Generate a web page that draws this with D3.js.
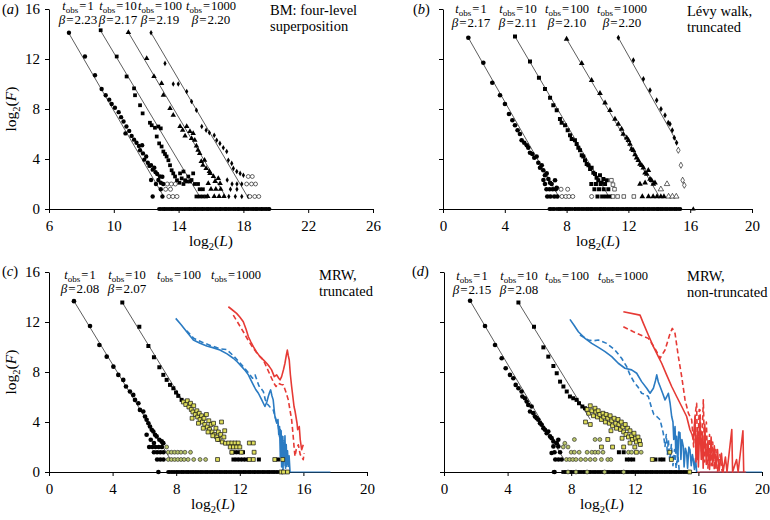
<!DOCTYPE html>
<html><head><meta charset="utf-8">
<script src="https://cdn.jsdelivr.net/npm/d3@7"></script>
<style>body{margin:0;background:#fff}</style>
</head><body><svg id="chart" width="770" height="520"></svg>
<script>
// ---------- DATA (log2 L, log2 F) ----------
const xTicksA = [6,10,14,18,22,26];
const xTicksB = [0,4,8,12,16,20];
const yTicks = [0,4,8,12,16];
const tobsLabels = ['1','10','100','1000'];
const aBeta = ['2.23','2.17','2.19','2.20'];
const bBeta = ['2.17','2.11','2.10','2.20'];
const cBeta = ['2.08','2.07'];
const dBeta = ['2.15','2.08'];
const aTitle = ['BM: four-level','superposition'];
const bTitle = ['Lévy walk,','truncated'];
const cTitle = ['MRW,','truncated'];
const dTitle = ['MRW,','non-truncated'];

// panel (a)
const aCircle = [[7.23,14.1],[8.22,12.2],[8.84,10.7],[9.25,9.6],[9.5,9.1],[9.72,8.75],[9.87,8.4],[10.07,8.1],[10.3,7.75],[10.45,7.35],[10.6,7.0],[10.78,6.6],[10.72,6.05],[10.95,6.25],[11.1,5.85],[11.25,5.55],[11.4,5.3],[11.55,5.05],[11.75,5.1],[11.62,4.7],[11.8,4.45],[11.88,3.95],[12.0,4.2],[12.1,3.7],[12.2,3.45],[12.3,3.5],[12.4,3.15],[12.5,3.3],[12.58,2.95],[12.68,2.8],[12.3,2.32],[12.75,2.32],[12.85,2.6],[13.0,2.58],[12.9,2.1],[13.05,2.0],[12.6,2.0],[12.4,1.0],[12.9,1.58],[13.0,1.0]];
const aCircleOpen = [[13.3,2.0],[13.55,2.0],[13.8,2.0],[13.2,1.58],[13.5,1.58],[13.4,1.0],[13.65,1.0],[13.9,1.0]];
const aSquare = [[9.19,14.3],[10.18,12.2],[10.79,10.6],[11.25,9.65],[11.31,9.1],[11.62,8.3],[11.78,7.65],[12.23,6.9],[12.34,6.7],[12.54,6.5],[12.75,6.6],[12.9,6.45],[12.65,5.8],[12.8,5.25],[12.95,5.0],[13.06,4.6],[13.16,4.4],[13.26,4.2],[13.37,3.9],[13.47,3.5],[13.57,3.1],[13.67,2.85],[13.78,2.6],[14.09,2.85],[14.19,2.45],[14.3,3.0],[14.4,2.3],[14.5,2.2],[14.6,2.6],[14.7,2.2],[14.8,2.32],[14.9,2.85],[14.05,2.1],[13.9,2.3],[14.3,2.0],[15.0,2.0],[15.2,2.0],[15.3,1.58],[15.5,1.58],[15.1,1.0],[15.3,1.0],[15.5,1.0],[15.7,1.0]];
const aTriangle = [[10.9,14.13],[12.03,12.05],[12.48,10.6],[12.95,10.05],[13.06,9.1],[13.47,8.05],[13.67,7.5],[14.09,6.6],[14.25,6.3],[14.4,5.85],[14.5,6.6],[14.7,6.2],[14.8,5.65],[14.9,6.05],[15.0,5.5],[15.1,5.05],[15.2,4.7],[15.3,4.45],[15.4,3.8],[15.5,3.5],[15.6,3.9],[15.7,3.25],[15.9,3.0],[15.94,2.85],[15.83,2.05],[16.15,2.6],[16.25,2.2],[16.45,2.45],[16.56,2.05],[16.0,1.58],[16.3,1.58],[16.6,1.58],[15.8,1.0],[16.2,1.0],[16.5,1.0],[16.8,1.0]];
const aDiamond = [[12.3,14.1],[13.16,11.65],[13.67,10.0],[13.98,10.0],[14.5,9.4],[14.8,8.6],[15.1,7.9],[15.43,6.6],[15.7,6.3],[15.9,6.1],[16.2,5.9],[16.35,5.5],[16.55,5.25],[16.76,4.9],[16.97,4.6],[17.07,3.9],[17.28,3.65],[17.38,3.25],[17.59,3.0],[17.8,2.85],[18.0,2.7],[17.0,2.32],[17.3,2.0],[17.6,2.0],[17.9,2.0],[17.2,1.58],[17.6,1.58],[17.1,1.0],[17.5,1.0],[17.9,1.0],[18.3,1.0]];
const aDiamondOpen = [[18.3,2.6],[18.55,2.6],[18.2,2.0],[18.5,2.0],[18.75,2.0],[18.4,1.0],[18.7,1.0],[18.95,1.0]];
const aRow0 = [12.8,12.95,13.1,13.2,13.35,13.5,13.6,13.75,13.9,14.0,14.15,14.3,14.45,14.6,14.7,14.85,15.0,15.1,15.25,15.4,15.5,15.65,15.8,15.9,16.05,16.2,16.35,16.5,16.6,16.75,16.9,17.0,17.15,17.3,17.45,17.6,17.7,17.85,18.0,18.1,18.25,18.4,18.55,18.7,18.8,18.95,19.1,19.2,19.35,19.5,19.6];
const aFits = [[7.23,14.05,13.1,0.95],[9.19,14.25,15.3,1.0],[10.9,14.13,16.9,1.0],[12.3,14.1,18.25,1.0]];

// panel (b)
const bCircle = [[1.64,13.7],[2.61,11.7],[3.19,10.1],[3.69,9.1],[4.01,8.4],[4.27,7.6],[4.49,7.1],[4.66,6.7],[4.83,6.3],[4.98,6.0],[5.09,5.5],[5.26,5.3],[5.42,5.1],[5.52,4.9],[5.63,4.5],[5.78,4.4],[5.91,4.1],[6.06,4.2],[6.17,3.7],[6.28,3.3],[6.39,3.5],[6.49,3.1],[6.6,2.7],[6.71,2.85],[6.82,2.4],[6.93,2.1],[7.03,2.0],[7.25,2.3],[7.36,1.7],[6.5,2.32],[6.6,2.0],[6.7,1.58],[6.9,1.58],[7.1,1.58],[7.3,1.58],[6.75,1.0],[6.95,1.0],[7.2,1.0],[7.4,1.0]];
const bCircleOpen = [[7.64,1.58],[8.07,1.58],[7.7,1.0],[7.95,1.0],[8.15,1.0],[8.4,1.0],[9.62,1.0]];
const bSquare = [[4.66,13.8],[5.63,11.8],[6.21,10.5],[6.6,9.6],[6.93,8.9],[7.14,8.3],[7.36,7.9],[7.57,7.2],[7.68,6.9],[7.9,6.7],[8.07,6.3],[8.22,5.9],[8.33,5.6],[8.54,5.5],[8.65,5.2],[8.76,4.9],[8.87,4.7],[8.98,4.3],[9.08,4.2],[9.19,3.9],[9.3,3.6],[9.41,3.5],[9.52,3.2],[9.62,3.3],[9.73,2.9],[9.84,2.8],[9.94,2.5],[10.05,2.3],[10.16,2.7],[10.27,2.1],[10.38,2.4],[10.49,2.0],[10.6,2.3],[9.6,2.0],[9.9,2.0],[10.2,2.0],[9.8,1.58],[10.1,1.58],[10.4,1.58],[10.7,1.58],[10.0,1.0],[10.3,1.0],[10.55,1.0],[10.8,1.0]];
const bSquareOpen = [[10.9,2.3],[11.0,1.95],[11.1,1.58],[11.0,1.0],[11.3,1.0],[11.7,1.0],[12.35,1.0]];
const bTriangle = [[8.0,13.6],[8.98,11.65],[9.62,10.3],[10.16,9.25],[10.49,8.5],[10.81,7.9],[11.13,7.2],[11.35,6.8],[11.56,6.4],[11.67,6.0],[11.89,5.7],[12.0,5.5],[12.1,5.2],[12.21,4.8],[12.32,4.7],[12.43,4.35],[12.53,4.1],[12.64,3.9],[12.75,3.6],[12.86,3.5],[12.97,3.3],[13.08,2.9],[13.19,2.8],[13.29,3.1],[13.4,2.4],[13.5,2.3],[13.61,2.0],[13.72,2.1],[12.75,2.0],[13.08,2.1],[12.9,1.0],[13.3,1.0],[13.6,1.0],[13.85,1.0],[14.1,1.0],[14.3,1.0]];
const bTriangleOpen = [[14.5,2.0],[14.1,1.58],[14.6,1.0],[14.85,1.0],[15.1,1.0]];
const bDiamond = [[11.35,13.7],[12.32,11.9],[12.97,10.4],[13.4,9.5],[13.83,8.7],[14.11,8.0],[14.37,7.5],[14.58,6.9],[14.69,6.8],[14.84,6.3],[14.97,5.7],[15.12,5.3]];
const bDiamondOpen = [[15.23,4.7],[15.4,3.5],[15.51,2.3],[15.62,1.9]];
const bRow0 = [6.9,7.05,7.2,7.4,7.55,7.7,7.9,8.0,8.15,8.3,8.5,8.6,8.75,8.9,9.05,9.2,9.35,9.5,9.6,9.75,9.9,10.05,10.2,10.3,10.45,10.6,10.75,10.9,11.0,11.15,11.3,11.45,11.6,11.75,11.9,12.0,12.15,12.3,12.45,12.6,12.75,12.9,13.0,13.15,13.3,13.45,13.6,13.75,13.9,14.0,14.15,14.3,14.45,14.6,14.75,14.9,15.05,15.2,15.35];
const bFits = [[1.64,13.7,7.49,1.0],[4.66,13.8,10.73,1.0],[8.0,13.6,14.0,1.0],[11.35,13.7,15.1,5.45]];

// panel (c)
const cCircle = [[1.57,13.67],[2.58,11.68],[3.17,10.16],[3.63,9.23],[4.05,8.43],[4.36,7.77],[4.67,7.37],[4.84,6.84],[5.09,6.44],[5.3,6.17],[5.41,5.77],[5.62,5.5],[5.72,4.97],[5.93,4.84],[6.04,4.44],[6.14,4.18],[6.25,3.9],[6.35,3.64],[6.46,3.38],[6.56,3.24],[6.67,2.98],[6.77,2.85],[6.94,2.58],[7.09,2.45],[7.19,2.31],[6.14,2.98],[6.4,2.58],[6.6,2.32],[6.3,2.0],[6.5,2.0],[6.7,2.0],[6.9,2.0],[7.1,2.0],[6.6,1.58],[6.8,1.58],[7.0,1.58],[7.2,1.58],[6.8,1.0],[7.0,1.0],[7.2,1.0],[6.88,0]];
const cCircleGreen = [[7.4,2.0],[7.5,1.58],[7.7,1.58],[7.9,1.58],[8.1,1.58],[8.3,1.58],[8.55,1.58],[8.9,1.58],[7.5,1.0],[7.7,1.0],[7.9,1.0],[8.1,1.0],[8.3,1.0],[8.5,1.0],[8.75,1.0],[9.1,1.0],[9.5,1.0],[9.85,1.0]];
const cSquare = [[4.61,13.56],[5.68,11.62],[6.25,10.08],[6.6,9.18],[6.94,8.38],[7.19,7.77],[7.4,7.37],[7.61,6.97],[7.82,6.7],[7.99,6.36],[8.13,6.09],[8.34,5.77],[11.5,1.58],[11.7,1.58],[11.9,1.58],[12.2,1.58],[11.6,1.0],[11.8,1.0],[12.0,1.0],[12.2,1.0],[12.4,1.0],[13.2,1.0],[14.4,1.0]];
const cSquareYellow = [[8.45,5.6],[8.6,5.4],[8.7,5.7],[8.8,5.2],[8.9,5.5],[8.95,5.0],[9.05,4.8],[9.1,5.3],[9.2,4.6],[9.3,4.9],[9.35,4.4],[9.45,4.7],[9.5,4.2],[9.6,4.5],[9.65,4.0],[9.75,4.3],[9.8,3.8],[9.9,4.6],[9.95,3.6],[10.05,4.1],[10.1,3.4],[10.2,3.8],[10.25,3.2],[10.35,3.9],[10.4,3.0],[10.5,3.5],[10.55,2.8],[10.65,3.2],[10.7,2.6],[10.8,3.0],[10.85,4.0],[10.9,2.4],[11.0,2.8],[11.05,3.3],[11.1,2.3],[9.0,4.3],[9.4,3.9],[9.7,3.5],[10.0,3.2],[10.3,2.9],[10.6,2.6],[11.3,2.32],[11.5,2.32],[11.7,2.32],[11.9,2.32],[12.6,2.32],[12.85,2.32],[11.4,2.0],[11.6,2.0],[11.8,2.0],[12.0,2.0],[11.5,1.58],[12.1,1.58],[12.9,1.58],[10.6,1.0],[12.6,1.0],[12.85,1.0],[14.2,1.0],[14.7,1.0],[14.6,0],[14.75,0],[15.0,0]];
const cRow0 = [7.5,7.65,7.8,7.95,8.1,8.25,8.4,8.55,8.7,8.85,9.0,9.15,9.3,9.45,9.6,9.75,9.9,10.05,10.2,10.35,10.5,10.65,10.8,10.95,11.1,11.25,11.4,11.55,11.7,11.85,12.0,12.15,12.3,12.45,12.6,12.75,12.9,13.05,13.2,13.35,13.5,13.65,13.8,13.95,14.1,14.25,14.4];
const cFits = [[1.57,13.67,7.6,1.1],[4.61,13.56,8.5,5.5]];
const cBlue = [[7.97,12.29],[8.3,11.8],[8.66,11.22],[9.08,10.56],[9.5,10.3],[9.92,10.08],[10.3,9.95],[10.75,9.76],[11.2,9.45],[11.59,9.1],[11.85,8.8],[12.12,8.43],[12.35,8.1],[12.54,7.77],[12.7,7.35],[12.85,6.97],[13.0,6.6],[13.17,6.3],[13.38,5.77],[13.58,5.24],[13.7,5.6],[13.79,6.04],[13.88,6.4],[13.94,6.57],[14.02,6.1],[14.1,5.77],[14.16,5.0],[14.21,4.44],[14.28,4.1],[14.32,3.91],[14.4,4.2],[14.45,3.0],[14.5,3.64],[14.55,1.2],[14.6,3.3],[14.63,0.4],[14.68,2.85],[14.72,0.2],[14.76,2.4],[14.8,0.8],[14.84,2.9],[14.88,0.3],[14.92,2.2],[14.96,0.6],[15.0,1.7],[15.05,0.45],[15.1,1.3],[15.16,0]];
const cBlueDash = [[8.66,11.3],[9.1,10.7],[9.6,10.4],[10.2,10.1],[10.8,9.85],[11.17,9.8],[11.6,9.3],[12.1,8.6],[12.5,8.0],[12.8,7.5],[12.96,7.77],[13.2,6.9],[13.48,6.44],[13.6,5.8],[13.69,5.5],[13.9,5.2],[14.1,4.97],[14.25,4.3],[14.42,3.64],[14.5,2.8],[14.55,3.4],[14.63,2.05],[14.7,2.9],[14.75,1.0],[14.8,2.5],[14.85,0.5],[14.9,1.8],[14.95,0]];
const cBlueBase = [[14.5,0],[17.7,0]];
const cRed = [[11.28,13.22],[11.5,13.0],[11.8,12.69],[12.0,12.4],[12.22,12.02],[12.4,11.4],[12.54,10.82],[12.7,10.4],[12.85,10.03],[13.05,9.6],[13.27,9.23],[13.5,8.95],[13.69,8.7],[13.85,8.45],[14.0,8.17],[14.17,7.63],[14.32,7.77],[14.45,7.5],[14.53,7.37],[14.63,7.63],[14.75,8.2],[14.84,8.7],[14.92,9.3],[14.99,9.75],[15.05,9.3],[15.11,8.96],[15.18,7.8],[15.26,6.84],[15.34,6.0],[15.41,5.24],[15.47,4.9],[15.53,4.44],[15.6,3.9],[15.64,3.38],[15.74,3.64],[15.8,2.6],[15.89,1.78],[15.99,2.18]];
const cRedDash = [[11.59,12.55],[11.9,11.9],[12.22,11.22],[12.5,10.6],[12.85,9.89],[13.15,9.4],[13.48,8.96],[13.75,8.2],[14.0,7.5],[14.15,7.1],[14.28,6.84],[14.42,7.1],[14.6,7.0],[14.74,6.97],[14.9,6.4],[15.05,5.77],[15.15,5.0],[15.26,4.18],[15.35,3.0],[15.41,2.05],[15.47,1.25],[15.55,1.8],[15.68,2.18],[15.8,1.4],[15.9,1.2],[15.99,0.98],[16.04,1.52]];

// panel (d)
const dCircle = [[1.64,13.7],[2.58,11.68],[3.21,10.16],[3.63,9.1],[3.88,8.3],[4.15,7.77],[4.36,7.5],[4.51,6.97],[4.68,6.7],[4.88,6.44],[4.93,6.04],[5.09,5.9],[5.2,5.64],[5.3,5.37],[5.51,5.24],[5.41,4.84],[5.62,4.71],[5.72,4.44],[5.83,4.31],[5.93,4.18],[6.04,3.91],[6.14,3.78],[6.25,3.51],[6.35,3.38],[6.46,3.11],[6.56,3.24],[6.67,2.85],[6.77,2.71],[6.88,2.45],[7.09,2.31],[7.19,2.58],[6.88,2.05],[7.19,2.05],[6.77,1.52],[6.95,1.58],[7.3,1.58],[7.0,1.0],[7.2,1.0],[7.4,1.0],[6.95,0]];
const dCircleGreen = [[7.6,2.3],[8.2,2.6],[9.5,2.6],[9.8,2.6],[7.5,2.0],[7.8,2.0],[8.0,1.58],[8.2,1.58],[8.5,1.58],[9.0,1.58],[9.3,1.58],[9.5,1.58],[9.7,1.58],[10.0,1.58],[7.7,1.0],[7.9,1.0],[8.1,1.0],[8.3,1.0],[8.6,1.0],[8.9,1.0],[9.2,1.0],[9.5,1.0],[9.9,1.0],[10.3,1.0],[10.5,1.0],[11.6,1.58],[11.8,1.58],[12.4,1.58],[7.8,0],[8.3,0],[9.0,0],[10.1,0],[11.3,0]];
const dSquare = [[4.68,13.56],[5.66,11.62],[6.25,9.97],[6.56,9.23],[6.88,8.48],[7.09,7.9],[7.3,7.23],[7.51,6.84],[7.72,6.44],[7.92,6.04],[8.13,5.9],[8.34,5.77],[8.49,5.5],[8.7,5.24],[8.87,5.1],[11.5,1.0],[11.7,1.0],[11.9,1.0],[13.3,1.0],[13.6,1.0],[13.8,1.0],[11.0,1.58],[11.3,1.58]];
const dSquareYellow = [[9.0,5.0],[9.1,4.7],[9.2,5.3],[9.3,4.9],[9.4,4.5],[9.5,5.1],[9.55,4.8],[9.65,4.4],[9.7,4.9],[9.8,4.6],[9.9,4.2],[10.0,4.7],[10.05,4.4],[10.15,4.0],[10.2,4.6],[10.3,4.3],[10.4,3.9],[10.45,4.5],[10.55,4.1],[10.6,3.7],[10.7,4.3],[10.8,3.9],[10.85,3.5],[10.95,4.2],[11.0,3.8],[11.1,3.4],[11.15,4.0],[11.25,3.6],[11.3,3.2],[11.4,3.8],[11.45,3.0],[11.55,3.5],[11.6,2.8],[11.7,3.3],[11.8,2.9],[11.85,2.6],[11.95,3.1],[12.05,2.7],[12.1,2.4],[12.2,2.8],[12.3,2.5],[12.35,2.2],[9.2,3.8],[10.5,3.3],[11.2,2.7],[10.3,2.6],[8.9,4.0],[11.7,2.32],[12.0,2.0],[11.3,2.0],[10.6,2.0],[9.9,2.0],[12.1,1.58],[13.1,1.0],[14.2,1.58],[14.3,1.0],[15.45,0]];
const dRow0 = [6.9,7.5,7.65,7.8,7.95,8.1,8.25,8.4,8.55,8.7,8.85,9.0,9.15,9.3,9.45,9.6,9.75,9.9,10.05,10.2,10.35,10.5,10.65,10.8,10.95,11.1,11.25,11.4,11.55,11.7,11.85,12.0,12.15,12.3,12.45,12.6,12.75,12.9,13.05,13.2,13.35,13.5,13.65,13.8,13.95,14.1,14.25,14.4,14.55,14.7,14.85,15.0,15.15,15.3,15.4];
const dFits = [[1.64,13.7,7.5,1.1],[4.68,13.56,9.2,4.2]];
const dBlue = [[7.92,12.21],[8.2,11.7],[8.45,11.22],[8.87,10.69],[9.29,10.29],[9.71,9.97],[10.13,9.63],[10.55,9.23],[10.96,8.7],[11.38,8.3],[11.8,8.17],[12.12,7.9],[12.43,7.23],[12.75,6.7],[12.96,6.3],[13.17,6.7],[13.3,7.3],[13.38,7.77],[13.48,7.2],[13.59,6.84],[13.75,6.3],[13.9,5.77],[14.0,6.0],[14.11,6.3],[14.22,5.5],[14.32,4.44],[14.4,4.0],[14.45,2.6],[14.53,3.64],[14.58,1.5],[14.63,2.85],[14.7,0.8],[14.76,3.2],[14.84,3.15],[14.9,1.0],[14.96,2.6],[15.05,2.05],[15.1,0.4],[15.18,1.9],[15.26,1.52],[15.32,0.3],[15.4,2.0],[15.47,1.78],[15.55,0.5],[15.62,1.4],[15.68,0.98],[15.75,0.2],[15.82,1.1],[15.89,0]];
const dBlueDash = [[8.55,10.96],[9.08,10.56],[9.4,10.5],[9.71,10.56],[10.23,10.29],[10.75,9.76],[11.17,9.1],[11.49,8.43],[11.7,7.77],[11.95,7.2],[12.2,6.8],[12.43,6.3],[12.65,6.2],[12.85,6.04],[13.06,5.1],[13.2,4.6],[13.38,4.44],[13.59,4.18],[13.79,3.11],[13.9,2.05],[13.98,3.0],[14.05,1.4],[14.11,2.6],[14.2,0.9],[14.3,2.2],[14.4,0.5],[14.5,1.8],[14.6,0.3],[14.7,1.5],[14.8,0]];
const dBlueBase = [[16.1,0],[20,0]];
const dRed = [[11.28,12.82],[12.33,12.55],[12.54,11.89],[12.85,10.96],[13.17,10.03],[13.48,9.23],[13.69,8.7],[14.0,7.77],[14.32,6.84],[14.63,6.04],[14.95,5.24],[15.26,4.44],[15.47,3.38],[15.6,3.0],[15.68,2.58],[15.79,4.44],[15.85,0.8],[15.95,3.5],[16.0,0.4],[16.1,4.2],[16.18,1.0],[16.25,2.9],[16.3,0.3],[16.4,3.8],[16.5,0.6],[16.6,2.5],[16.7,0.2],[16.8,2.8],[16.9,0.5],[17.0,2.1],[17.1,0.3],[17.2,1.8],[17.3,0.1],[17.45,1.5],[17.55,0],[17.7,1.2],[17.8,0],[18.1,3.4],[18.15,0],[18.4,1.0],[18.5,0],[18.8,3.3],[18.85,0]];
const dRedDash = [[11.28,11.62],[11.91,11.22],[12.85,10.69],[13.27,9.89],[13.59,9.1],[13.9,9.76],[14.22,11.09],[14.36,11.49],[14.53,11.09],[14.74,9.23],[14.95,7.63],[15.16,5.77],[15.37,4.71],[15.58,4.18],[15.7,2.0],[15.8,4.6],[15.89,5.5],[15.95,1.0],[16.05,5.0],[16.1,4.97],[16.2,1.5],[16.31,5.77],[16.4,0.8],[16.5,4.0],[16.6,0.3],[16.7,3.0],[16.8,0.5],[16.9,2.4],[17.0,0.2],[17.1,1.8],[17.2,0],[17.35,1.4],[17.5,0]];
const dRedBase = [[15.9,0],[19.0,0]];

// ---------- DRAWING ----------
const FONT = 'Liberation Serif';
const svg = d3.select('#chart');
const BLUE = '#2b7bc2', RED = '#e63a35', YEL = '#e0df5c', GRN = '#b8c46c';

function txt(sel, x, y, size) {
  return sel.append('text').attr('x', x).attr('y', y).attr('font-family', FONT).attr('font-size', size).attr('fill', '#000');
}
function sp(t, s) { return t.append('tspan').attr('font-family', FONT).text(s); }

function panel(cfg) {
  const g = svg.append('g');
  const x = d3.scaleLinear().domain(cfg.xd).range([cfg.x0, cfg.x1]);
  const y = d3.scaleLinear().domain([0,16]).range([cfg.y0, cfg.y1]);
  const xa = g.append('g').attr('transform', `translate(0,${cfg.y0})`)
    .call(d3.axisBottom(x).tickValues(cfg.xt).tickSize(4).tickSizeOuter(0).tickPadding(7));
  const ya = g.append('g').attr('transform', `translate(${cfg.x0},0)`)
    .call(d3.axisLeft(y).tickValues(yTicks).tickSize(4).tickSizeOuter(0).tickPadding(5)
      .tickFormat(cfg.ylab ? d3.format('d') : () => ''));
  [xa, ya].forEach(a => {
    a.attr('font-family', FONT).attr('font-size', 15);
    a.selectAll('text').attr('fill', '#000').attr('font-family', FONT).attr('font-size', 15);
    a.selectAll('path,line').attr('stroke', '#000').attr('stroke-width', 1);
  });
  const xt = txt(g, cfg.xtx, cfg.y0 + 37, 15.5).attr('text-anchor', 'middle');
  sp(xt, 'log');
  sp(xt, '2').attr('dy', 4).attr('font-size', 10.5);
  sp(xt, '(').attr('dy', -4);
  sp(xt, 'L').attr('font-style', 'italic');
  sp(xt, ')');
  if (cfg.ylab) {
    const cy = (cfg.y0 + cfg.y1) / 2;
    const yt = txt(g, 0, 0, 15.5).attr('transform', `translate(16,${cy}) rotate(-90)`).attr('text-anchor', 'middle');
    sp(yt, 'log');
    sp(yt, '2').attr('dy', 4).attr('font-size', 10.5);
    sp(yt, '(').attr('dy', -4);
    sp(yt, 'F').attr('font-style', 'italic');
    sp(yt, ')');
  }
  const pl = txt(g, cfg.lx, cfg.ly, 14.5);
  sp(pl, '(');
  sp(pl, cfg.letter).attr('font-style', 'italic');
  sp(pl, ')');
  cfg.ax.forEach((px, i) => {
    const t = txt(g, px, cfg.t1, 12.5).attr('text-anchor', 'middle');
    sp(t, 't').attr('font-style', 'italic');
    sp(t, 'obs').attr('dy', 2.5).attr('font-size', 9);
    sp(t, '\u200A=\u200A' + tobsLabels[i]).attr('dy', -2.5);
    if (cfg.betas[i]) {
      const b = txt(g, px, cfg.t1 + 14, 13).attr('text-anchor', 'middle');
      sp(b, 'β').attr('font-style', 'italic');
      sp(b, '\u200A=\u200A' + cfg.betas[i]);
    }
  });
  cfg.title.forEach((s, i) => { txt(g, cfg.tx, cfg.ty + i * 16, 14.5).text(s); });
  return {g, x, y};
}

function symbols(P, data, type, size, fill, stroke, sw) {
  P.g.append('g').selectAll('path').data(data).join('path')
    .attr('transform', d => `translate(${P.x(d[0])},${P.y(d[1])})`)
    .attr('d', d3.symbol().type(type).size(size))
    .attr('fill', fill).attr('stroke', stroke || 'none').attr('stroke-width', sw || 0);
}
function row0(P, xs) {
  P.g.append('g').selectAll('path').data(xs).join('path')
    .attr('transform', d => `translate(${P.x(d)},${P.y(0)})`)
    .attr('d', (d, i) => d3.symbol().type(i % 2 ? d3.symbolSquare : d3.symbolCircle).size(14)())
    .attr('fill', '#000');
}
function fits(P, arr) {
  P.g.append('g').selectAll('line').data(arr).join('line')
    .attr('x1', d => P.x(d[0])).attr('y1', d => P.y(d[1]))
    .attr('x2', d => P.x(d[2])).attr('y2', d => P.y(d[3]))
    .attr('stroke', '#333').attr('stroke-width', 0.8);
}
function curve(P, data, color, dash, w) {
  P.g.append('path').datum(data)
    .attr('d', d3.line().x(d => P.x(d[0])).y(d => P.y(d[1])))
    .attr('fill', 'none').attr('stroke', color).attr('stroke-width', w || 1.6)
    .attr('stroke-dasharray', dash ? '5,3' : null).attr('stroke-linejoin', 'round');
}

// Panel a
const A = panel({x0:49,x1:373,y0:209,y1:9,xd:[6,26],xt:xTicksA,ylab:true,xtx:211,letter:'a',lx:2,ly:14,
  ax:[78,118,160,211],t1:10,betas:aBeta,title:aTitle,tx:270,ty:15});
fits(A, aFits);
row0(A, aRow0);
symbols(A, aCircle, d3.symbolCircle, 15, '#000');
symbols(A, aSquare, d3.symbolSquare, 14, '#000');
symbols(A, aTriangle, d3.symbolTriangle, 13, '#000');
symbols(A, aDiamond, d3.symbolDiamond, 9, '#000');
symbols(A, aCircleOpen, d3.symbolCircle, 13, '#fff', '#000', 0.6);
symbols(A, aDiamondOpen, d3.symbolCircle, 12, '#fff', '#000', 0.6);

// Panel b
const B = panel({x0:443,x1:752,y0:209,y1:9,xd:[0,20],xt:xTicksB,ylab:false,xtx:598,letter:'b',lx:413,ly:14,
  ax:[471,518,567,622],t1:13,betas:bBeta,title:bTitle,tx:687,ty:16});
fits(B, bFits);
row0(B, bRow0);
symbols(B, [[16.2,0]], d3.symbolTriangle, 10, '#000');
symbols(B, bCircle, d3.symbolCircle, 17, '#000');
symbols(B, bSquare, d3.symbolSquare, 16, '#000');
symbols(B, bTriangle, d3.symbolTriangle, 14, '#000');
symbols(B, bDiamond, d3.symbolDiamond, 11, '#000');
symbols(B, bCircleOpen, d3.symbolCircle, 13, '#fff', '#000', 0.6);
symbols(B, bSquareOpen, d3.symbolSquare, 13, '#fff', '#000', 0.6);
symbols(B, bTriangleOpen, d3.symbolTriangle, 13, '#fff', '#000', 0.6);
symbols(B, bDiamondOpen, d3.symbolDiamond, 11, '#fff', '#000', 0.6);

// Panel c
const C = panel({x0:49,x1:367,y0:472,y1:272,xd:[0,20],xt:xTicksB,ylab:true,xtx:213,letter:'c',lx:2,ly:276,
  ax:[80,127,179,236],t1:279,betas:cBeta,title:cTitle,tx:319,ty:280});
fits(C, cFits);
row0(C, cRow0);
symbols(C, cCircle, d3.symbolCircle, 17, '#000');
symbols(C, cSquare, d3.symbolSquare, 16, '#000');
symbols(C, cCircleGreen, d3.symbolCircle, 12, GRN, '#222', 0.6);
curve(C, cBlueBase, BLUE, false, 1.2);
curve(C, cBlueDash, BLUE, true);
curve(C, cBlue, BLUE, false);
curve(C, cRedDash, RED, true);
curve(C, cRed, RED, false);
symbols(C, cSquareYellow, d3.symbolSquare, 15, YEL, '#111', 0.7);

// Panel d
const D = panel({x0:444,x1:762,y0:472,y1:272,xd:[0,20],xt:xTicksB,ylab:false,xtx:602,letter:'d',lx:412,ly:276,
  ax:[472,519,567,623],t1:280,betas:dBeta,title:dTitle,tx:687,ty:281});
fits(D, dFits);
row0(D, dRow0);
symbols(D, dCircle, d3.symbolCircle, 17, '#000');
symbols(D, dSquare, d3.symbolSquare, 16, '#000');
symbols(D, dCircleGreen, d3.symbolCircle, 12, GRN, '#222', 0.6);
curve(D, dBlueBase, BLUE, false, 1.2);
curve(D, dRedBase, RED, false, 1.2);
curve(D, dBlueDash, BLUE, true);
curve(D, dBlue, BLUE, false);
curve(D, dRedDash, RED, true);
curve(D, dRed, RED, false);
symbols(D, dSquareYellow, d3.symbolSquare, 15, YEL, '#111', 0.7);
</script></body></html>
